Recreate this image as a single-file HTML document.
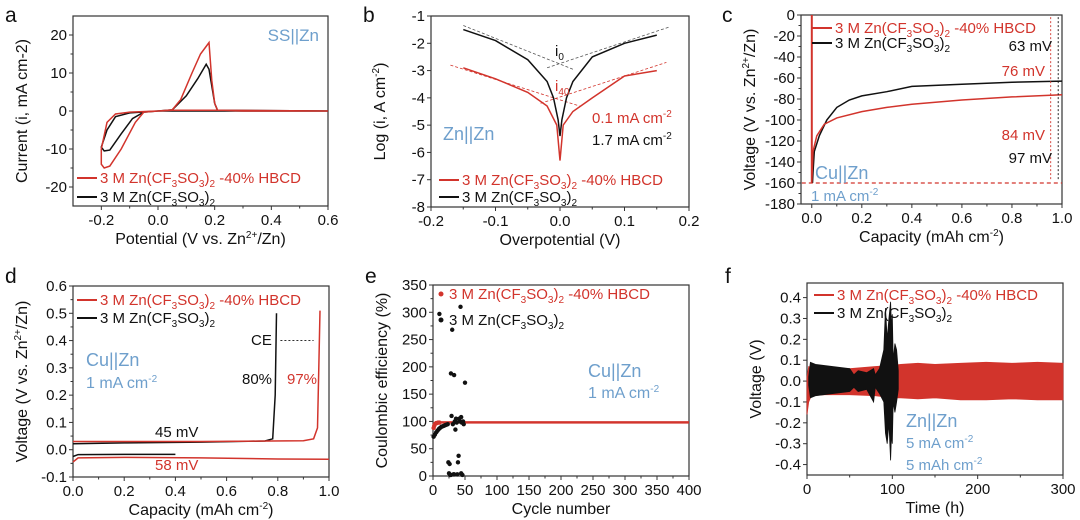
<!DOCTYPE html>
<html><head><meta charset="utf-8"><style>
html,body{margin:0;padding:0;background:#fff}
svg{display:block;font-family:"Liberation Sans","Noto Sans CJK SC",sans-serif}
</style></head><body>
<svg id="fig" width="1080" height="520" viewBox="0 0 1080 520" xmlns="http://www.w3.org/2000/svg"></svg>
<script>
// ---- Panel a data (CV) ----
const aRedX=[0.6,0.2,0.05,0,-0.1,-0.15,-0.18,-0.2,-0.2,-0.19,-0.17,-0.13,-0.08,-0.05,0,0.05,0.08,0.12,0.15,0.175,0.18,0.19,0.2,0.21,0.3,0.6];
const aRedY=[0,0.2,0.2,0,-0.3,-0.8,-3,-10,-14,-15,-14.5,-10,-3,-0.3,0,0.3,3,10,15,17.5,18,8,2,0.2,0,0];
const aBlkX=[0.6,0,-0.1,-0.15,-0.18,-0.2,-0.19,-0.17,-0.13,-0.09,-0.05,0,0.05,0.1,0.14,0.17,0.18,0.2,0.21,0.6];
const aBlkY=[0,0,-0.5,-1.5,-5,-9.5,-10.5,-10.3,-6,-2,-0.3,0,0.3,4,8.5,12.3,11,2,0.2,0];
// ---- Panel b data (Tafel) ----
const bBlkX=[-0.15,-0.1,-0.05,-0.02,-0.01,-0.003,0,0.003,0.01,0.02,0.05,0.1,0.15];
const bBlkY=[-1.5,-1.9,-2.6,-3.4,-4,-4.8,-5.4,-4.8,-4,-3.4,-2.5,-2.0,-1.7];
const bRedX=[-0.15,-0.1,-0.05,-0.02,-0.005,0,0.005,0.02,0.05,0.1,0.15];
const bRedY=[-2.9,-3.3,-3.8,-4.3,-5,-6.3,-5,-4.5,-4,-3.2,-3.0];
// ---- Panel c data ----
const cRedX=[0,0,0.005,0.02,0.05,0.1,0.2,0.3,0.4,0.6,0.8,1.0];
const cRedY=[-160,-160,-130,-115,-104,-98,-92,-88,-85,-81,-78,-76];
const cBlkX=[0.003,0.005,0.01,0.03,0.06,0.1,0.15,0.2,0.3,0.4,0.6,0.8,1.0];
const cBlkY=[-160,-150,-130,-115,-100,-88,-81,-77,-73,-68,-66,-64,-63];
// ---- Panel d data ----
const dRedUX=[0,0.2,0.5,0.9,0.94,0.955,0.96,0.965];
const dRedUY=[0.03,0.03,0.03,0.033,0.04,0.08,0.3,0.51];
const dBlkUX=[0,0.2,0.5,0.75,0.78,0.79,0.795];
const dBlkUY=[0.022,0.025,0.028,0.032,0.04,0.2,0.5];
const dRedLX=[0,0.02,0.2,0.5,0.8,1.0];
const dRedLY=[-0.045,-0.03,-0.028,-0.03,-0.034,-0.035];
const dBlkLX=[0,0.02,0.2,0.4];
const dBlkLY=[-0.025,-0.018,-0.017,-0.017];
// ---- Panel e data ----
const eBlkX=[1,3,5,7,9,11,13,15,17,19,21,23,24,25,26,27,28,29,30,31,32,33,34,35,36,37,38,39,40,41,42,43,44,45,46,47,48,50,10,44,28,33];
const eBlkY=[72,76,80,83,86,88,90,91,92,93,94,95,25,5,22,2,188,110,268,95,3,185,100,85,105,98,3,25,37,105,100,310,108,98,2,100,95,171,297,5,2,3];
const eRedStartX=[1,2,3,4,5,6,8,10];
const eRedStartY=[88,92,95,96,97,97,98,98];
// ---- Panel f data (envelopes) ----
const fRedT=[0,2,5,20,50,80,100,110,130,150,180,210,240,270,300];
const fRedHi=[0.02,0.07,0.065,0.06,0.06,0.07,0.075,0.08,0.085,0.08,0.085,0.09,0.085,0.09,0.085];
const fRedLo=[-0.16,-0.1,-0.07,-0.065,-0.065,-0.07,-0.08,-0.08,-0.085,-0.08,-0.09,-0.09,-0.085,-0.09,-0.09];
const fBlkT=[2,4,10,30,50,55,60,70,78,80,85,90,92,94,96,98,99,100,101,103,105,107];
const fBlkHi=[0.02,0.09,0.08,0.07,0.06,0.03,0.05,0.04,0.06,0.03,0.06,0.15,0.35,0.2,0.3,0.38,0.25,0.32,0.1,0.18,0.15,0.05];
const fBlkLo=[-0.02,-0.08,-0.07,-0.06,-0.05,-0.03,-0.05,-0.04,-0.1,-0.03,-0.06,-0.1,-0.25,-0.3,-0.2,-0.38,-0.25,-0.3,-0.1,-0.15,-0.1,-0.04];

const NS="http://www.w3.org/2000/svg";
const svg=document.getElementById('fig');
const RED="#d2342c",BLUE="#6e9fcc";
function mk(tag,attrs,parent){const e=document.createElementNS(NS,tag);for(const k in attrs)e.setAttribute(k,attrs[k]);(parent||svg).appendChild(e);return e;}
function txt(x,y,s,o,parent){o=o||{};const e=mk('text',{x:x,y:y,'font-size':o.fs||15,fill:o.fill||'#111','text-anchor':o.anchor||'start'},parent);if(o.rot)e.setAttribute('transform',`rotate(${o.rot} ${x} ${y})`);e.innerHTML=s;return e;}
function panel(name,L,T,R,B,xd,yd,xt,yt,xlab,ylab,xminor,yminor,xtl,ytl){
  const g=mk('g',{});
  const sx=v=>L+(v-xd[0])/(xd[1]-xd[0])*(R-L);
  const sy=v=>B-(v-yd[0])/(yd[1]-yd[0])*(B-T);
  const fr=mk('rect',{x:L,y:T,width:R-L,height:B-T,fill:'none',stroke:'#333','stroke-width':1.2},g);
  
  const xa=mk('g',{},g);
  xt.forEach((v,i)=>{const x=sx(v);mk('line',{x1:x,x2:x,y1:B,y2:B+4,stroke:'#333'},xa);txt(x,B+19,xtl?xtl[i]:v,{anchor:'middle'},xa);});
  (xminor||[]).forEach(v=>{const x=sx(v);mk('line',{x1:x,x2:x,y1:B,y2:B+2.5,stroke:'#333'},xa);});
  const ya=mk('g',{},g);
  yt.forEach((v,i)=>{const y=sy(v);mk('line',{x1:L-4,x2:L,y1:y,y2:y,stroke:'#333'},ya);txt(L-6,y+5,ytl?ytl[i]:v,{anchor:'end'},ya);});
  (yminor||[]).forEach(v=>{const y=sy(v);mk('line',{x1:L-2.5,x2:L,y1:y,y2:y,stroke:'#333'},ya);});
  const xl=txt((L+R)/2,B+38,xlab,{anchor:'middle',fs:16},g);
  const yl=txt(L-46,(T+B)/2,ylab,{anchor:'middle',fs:16,rot:-90},g);
  return {g,sx,sy};
}
function line(p,X,Y,col,w,dash,name){const d=X.map((x,i)=>(i?'L':'M')+p.sx(x).toFixed(1)+' '+p.sy(Y[i]).toFixed(1)).join(' ');const e=mk('path',{d:d,fill:'none',stroke:col,'stroke-width':w||1.5,'stroke-dasharray':dash||'none'},p.g);return e;}
function legend(g,x,y,col,html,name,dot){const lg=mk('g',{},g);
  if(dot)mk('circle',{cx:x+4,cy:y,r:2.5,fill:col},lg);else mk('line',{x1:x,x2:x+20,y1:y,y2:y,stroke:col,'stroke-width':2},lg);
  txt(dot?x+12:x+23,y+5,html,{fill:col,fs:15},lg);}
const sub=s=>`<tspan font-size="10" baseline-shift="-4">${s}</tspan>`;
const sup=s=>`<tspan font-size="10" baseline-shift="6">${s}</tspan>`;
const L1=`3 M Zn(CF${sub(3)}SO${sub(3)})${sub(2)} -40% HBCD`, L2=`3 M Zn(CF${sub(3)}SO${sub(3)})${sub(2)}`;
function letter(x,y,s){const e=txt(x,y,s,{fs:21});}

// Panel a
let p=panel('panel-a-cv',73,16,328,206,[-0.3,0.6],[-25,25],[-0.2,0,0.2,0.4,0.6],[-20,-10,0,10,20],`Potential (V vs. Zn${sup('2+')}/Zn)`,'Current (i, mA cm-2)',[-0.1,0.1,0.3,0.5],[-15,-5,5,15],['-0.2','0.0','0.2','0.4','0.6']);
line(p,aBlkX,aBlkY,'#111',1.5,null,'cv-black-curve');line(p,aRedX,aRedY,RED,1.5,null,'cv-red-curve');
txt(319,41,'SS||Zn',{fill:BLUE,fs:17,anchor:'end'},p.g);
legend(p.g,77,178,RED,L1,'legend-hbcd');legend(p.g,77,197,'#111',L2,'legend-baseline');letter(5,22,'a');

// Panel b
p=panel('panel-b-tafel',431,16,689,207,[-0.2,0.2],[-8,-1],[-0.2,-0.1,0,0.1,0.2],[-8,-7,-6,-5,-4,-3,-2,-1],'Overpotential (V)',`Log (i, A cm${sup('-2')})`,[-0.15,-0.05,0.05,0.15],null,['-0.2','-0.1','0.0','0.1','0.2']);
line(p,[-0.15,0.02],[-1.35,-2.95],'#555',0.8,'3,2','tafel-fit-black-1');line(p,[-0.02,0.17],[-2.9,-1.4],'#555',0.8,'3,2','tafel-fit-black-2');
line(p,[-0.17,0.03],[-2.8,-4.3],RED,0.8,'3,2','tafel-fit-red-1');line(p,[-0.03,0.165],[-4.2,-2.7],RED,0.8,'3,2','tafel-fit-red-2');
line(p,bBlkX,bBlkY,'#111',1.5,null,'tafel-black-curve');line(p,bRedX,bRedY,RED,1.5,null,'tafel-red-curve');
txt(555,56,`i${sub(0)}`,{fs:15},p.g);txt(555,91,`i${sub(40)}`,{fill:RED,fs:15},p.g);
txt(592,123,`0.1 mA cm${sup('-2')}`,{fill:RED,fs:15},p.g);txt(592,145,`1.7 mA cm${sup('-2')}`,{fs:15},p.g);
txt(443,140,'Zn||Zn',{fill:BLUE,fs:18},p.g);
legend(p.g,439,180,RED,L1,'legend-hbcd');legend(p.g,439,197,'#111',L2,'legend-baseline');letter(363,22,'b');

// Panel c
p=panel('panel-c-nucleation',801,15,1062,204,[-0.043,1.0],[-180,0],[0,0.2,0.4,0.6,0.8,1.0],[-180,-160,-140,-120,-100,-80,-60,-40,-20,0],`Capacity (mAh cm${sup('-2')})`,`Voltage (V vs. Zn${sup('2+')}/Zn)`,[0.1,0.3,0.5,0.7,0.9],[-170,-150,-130,-110,-90,-70,-50,-30,-10],['0.0','0.2','0.4','0.6','0.8','1.0']);
line(p,[0,0],[0,-160],RED,2,null,'red-vertical');line(p,[-0.04,1.0],[-160,-160],RED,1.3,'4,3','red-baseline-dashed');
line(p,cBlkX,cBlkY,'#111',1.5,null,'c-black-curve');line(p,cRedX,cRedY,RED,1.5,null,'c-red-curve');
line(p,[0.955,0.955],[-2,-158],RED,0.9,'2,2','red-arrow');line(p,[0.985,0.985],[-2,-158],'#111',0.9,'2,2','black-arrow');
txt(1052,51,'63 mV',{anchor:'end'},p.g);txt(1045,76,'76 mV',{fill:RED,anchor:'end'},p.g);
txt(1045,140,'84 mV',{fill:RED,anchor:'end'},p.g);txt(1052,163,'97 mV',{anchor:'end'},p.g);
txt(815,179,'Cu||Zn',{fill:BLUE,fs:18},p.g);txt(811,201,`1 mA cm${sup('-2')}`,{fill:BLUE,fs:15},p.g);
legend(p.g,812,28,RED,L1,'legend-hbcd');legend(p.g,812,43,'#111',L2,'legend-baseline');letter(722,22,'c');

// Panel d
p=panel('panel-d-cu-zn',73,286,329,477,[0,1.0],[-0.1,0.6],[0,0.2,0.4,0.6,0.8,1.0],[-0.1,0,0.1,0.2,0.3,0.4,0.5,0.6],`Capacity (mAh cm${sup('-2')})`,`Voltage (V vs. Zn${sup('2+')}/Zn)`,[0.1,0.3,0.5,0.7,0.9],[-0.05,0.05,0.15,0.25,0.35,0.45,0.55],['0.0','0.2','0.4','0.6','0.8','1.0'],['-0.1','0.0','0.1','0.2','0.3','0.4','0.5','0.6']);
line(p,dBlkLX,dBlkLY,'#111',1.5,null,'d-black-lower');line(p,dRedLX,dRedLY,RED,1.5,null,'d-red-lower');
line(p,dBlkUX,dBlkUY,'#111',1.5,null,'d-black-upper');line(p,dRedUX,dRedUY,RED,1.5,null,'d-red-upper');
line(p,[0.81,0.94],[0.4,0.4],'#111',0.9,'2,2','ce-arrow');
txt(251,345,'CE',{},p.g);txt(242,384,'80%',{},p.g);txt(287,384,'97%',{fill:RED},p.g);
txt(155,437,'45 mV',{},p.g);txt(155,470,'58 mV',{fill:RED},p.g);
txt(86,366,'Cu||Zn',{fill:BLUE,fs:18},p.g);txt(86,388,`1 mA cm${sup('-2')}`,{fill:BLUE,fs:16},p.g);
legend(p.g,77,300,RED,L1,'legend-hbcd');legend(p.g,77,318,'#111',L2,'legend-baseline');letter(5,283,'d');

// Panel e
p=panel('panel-e-ce',433,285,689,476,[0,400],[0,350],[0,50,100,150,200,250,300,350,400],[0,50,100,150,200,250,300,350],'Cycle number','Coulombic efficiency (%)',[25,75,125,175,225,275,325,375],[25,75,125,175,225,275,325]);
const rb=mk('rect',{x:p.sx(8),y:p.sy(100.5),width:p.sx(400)-p.sx(8),height:p.sy(96)-p.sy(100.5),fill:RED},p.g);

eRedStartX.forEach((x,i)=>{const c=mk('circle',{cx:p.sx(x),cy:p.sy(eRedStartY[i]),r:2.2,fill:RED},p.g);});
eBlkX.forEach((x,i)=>{const c=mk('circle',{cx:p.sx(x),cy:p.sy(eBlkY[i]),r:2.2,fill:'#111'},p.g);});
txt(588,377,'Cu||Zn',{fill:BLUE,fs:18},p.g);txt(588,398,`1 mA cm${sup('-2')}`,{fill:BLUE,fs:16},p.g);
legend(p.g,437,294,RED,L1,'legend-hbcd',true);legend(p.g,437,320,'#111',L2,'legend-baseline',true);letter(365,283,'e');

// Panel f
p=panel('panel-f-cycling',807,283,1063,475,[0,300],[-0.45,0.47],[0,100,200,300],[-0.4,-0.3,-0.2,-0.1,0,0.1,0.2,0.3,0.4],'Time (h)','Voltage (V)',[50,150,250],null,null,['-0.4','-0.3','-0.2','-0.1','0.0','0.1','0.2','0.3','0.4']);
function band(T,H,Lo,col,name){const d=T.map((t,i)=>(i?'L':'M')+p.sx(t).toFixed(1)+' '+p.sy(H[i]).toFixed(1)).join(' ')+' '+T.slice().reverse().map((t,i)=>'L'+p.sx(t).toFixed(1)+' '+p.sy(Lo[T.length-1-i]).toFixed(1)).join(' ')+'Z';const e=mk('path',{d:d,fill:col,stroke:col,'stroke-width':0.8},p.g);}
band(fRedT,fRedHi,fRedLo,RED,'red-voltage-band');band(fBlkT,fBlkHi,fBlkLo,'#111','black-voltage-band');
txt(906,427,'Zn||Zn',{fill:BLUE,fs:18},p.g);txt(906,448,`5 mA cm${sup('-2')}`,{fill:BLUE,fs:15},p.g);txt(906,470,`5 mAh cm${sup('-2')}`,{fill:BLUE,fs:15},p.g);
legend(p.g,814,295,RED,L1,'legend-hbcd');legend(p.g,814,313,'#111',L2,'legend-baseline');letter(725,283,'f');
</script>
</body></html>
